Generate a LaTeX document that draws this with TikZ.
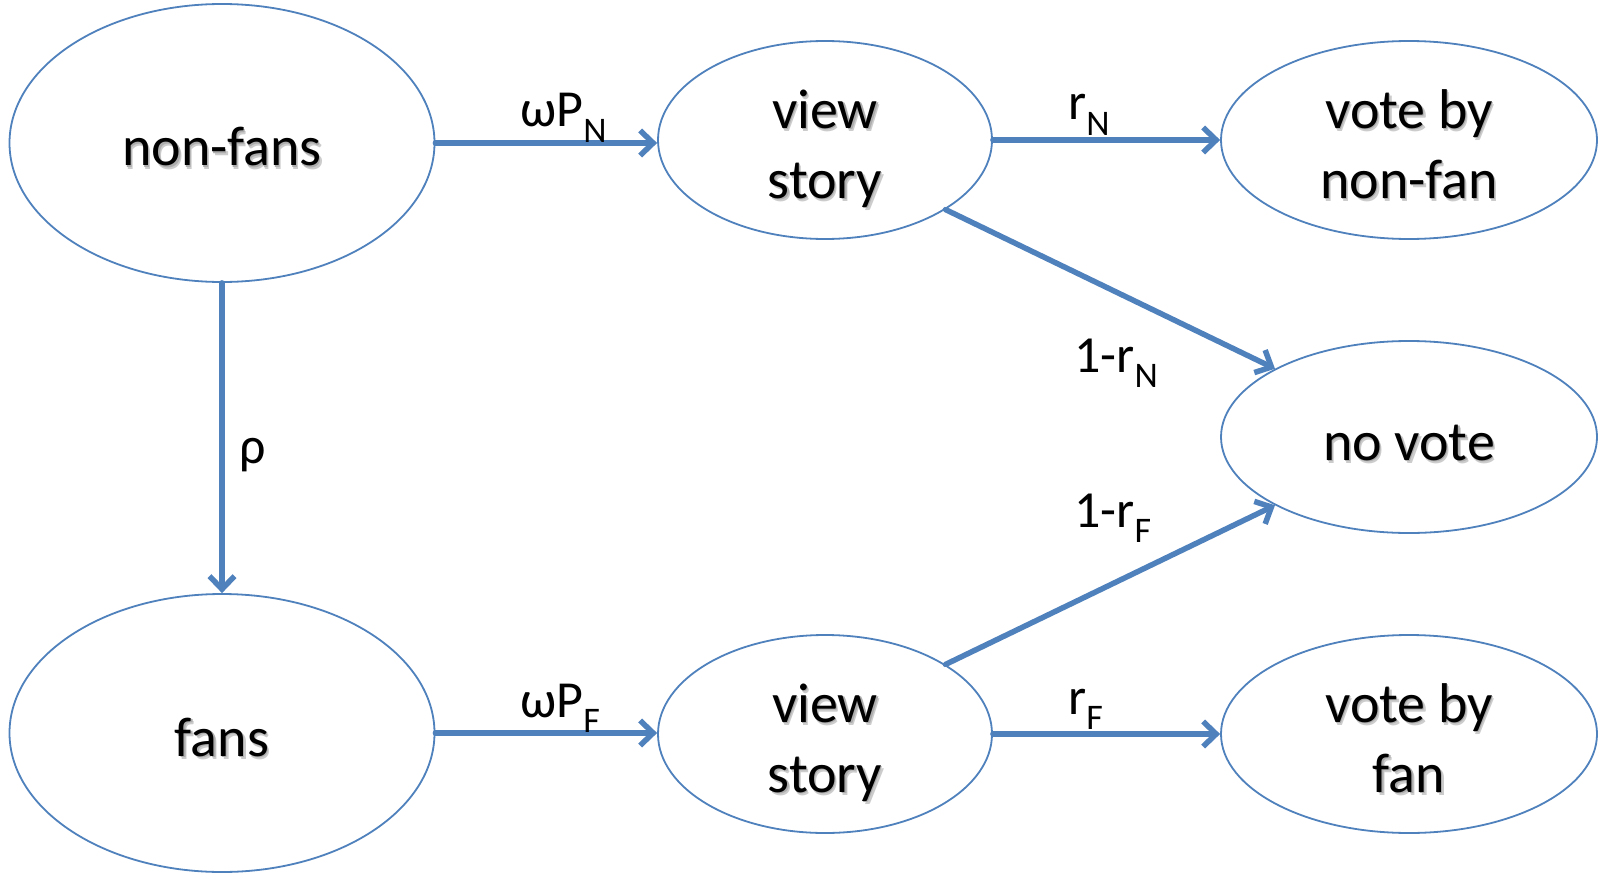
\documentclass[tikz,border=0pt]{standalone}
\usepackage{fontspec}
\setmainfont{Carlito}
\usetikzlibrary{shapes.geometric,arrows.meta}
\definecolor{accent}{HTML}{4F81BD}
\newcommand{\shd}[1]{\makebox[0pt][l]{\hspace{2.5pt}\raisebox{-3.5pt}{\textcolor{black!20}{#1}}}\makebox[0pt][l]{\hspace{1.2pt}\raisebox{-1.8pt}{\textcolor{black!32}{#1}}}#1}
\newcommand{\ntext}[1]{\raisebox{-9pt}[\height][\depth]{\begin{tabular}{@{}c@{}}#1\end{tabular}}}
\newcommand{\lbl}[2]{#1\raisebox{-0.3em}{\fontsize{36}{36}\selectfont #2}}
\begin{document}
\begin{tikzpicture}[x=1pt,y=-1pt,
  state/.style={ellipse, draw=accent, line width=1.8pt, inner sep=0pt,
    font=\fontsize{56}{70}\selectfont},
  big/.style={minimum width=425pt, minimum height=278pt},
  small/.style={minimum width=334pt, minimum height=193pt},
  right/.style={minimum width=376pt, minimum height=192pt},
  flow/.style={draw=accent, line width=5.5pt, line cap=round,
    -{Straight Barb[length=13pt,width=25pt]}},
  lab/.style={font=\fontsize{52}{60}\selectfont, inner sep=0pt, anchor=base west}]
\useasboundingbox (0,0) rectangle (1605,880);
\fill[white] (0,0) rectangle (1605,880);
\node[state, big] (nonfans) at (222,143) {\ntext{\shd{non-fans}}};
\node[state, big] (fans) at (222,733) {\ntext{\shd{fans}}};
\node[state, small] (viewN) at (825,140) {\ntext{\shd{view}\\\shd{story}}};
\node[state, small] (viewF) at (825,734) {\ntext{\shd{view}\\\shd{story}}};
\node[state, right] (voteN) at (1409,140) {\ntext{\shd{vote by}\\\shd{non-fan}}};
\node[state, right] (novote) at (1409,437) {\ntext{\shd{no vote}}};
\node[state, right] (voteF) at (1409,734) {\ntext{\shd{vote by}\\\shd{fan}}};
\draw[flow] (nonfans.east) -- (nonfans.east -| viewN.west);
\draw[flow] (fans.east) -- (fans.east -| viewF.west);
\draw[flow] (viewN.east) -- (voteN.west);
\draw[flow] (viewF.east) -- (voteF.west);
\draw[flow] (nonfans.south) -- (fans.north);
\draw[flow] (viewN.-30) -- (novote.153);
\draw[flow] (viewF.30) -- (novote.207);
\node[lab] (lwpn) at (520,127) {\lbl{ωP}{N}};
\node[lab] (lwpf) at (520,717) {\lbl{ωP}{F}};
\node[lab] (lrn) at (1068,120) {\lbl{r}{N}};
\node[lab] (lrf) at (1068,714) {\lbl{r}{F}};
\node[lab] (l1rn) at (1074,372) {\lbl{1-r}{N}};
\node[lab] (l1rf) at (1074,527) {\lbl{1-r}{F}};
\node[lab] (lrho) at (239,463) {ρ};
\end{tikzpicture}
\end{document}
